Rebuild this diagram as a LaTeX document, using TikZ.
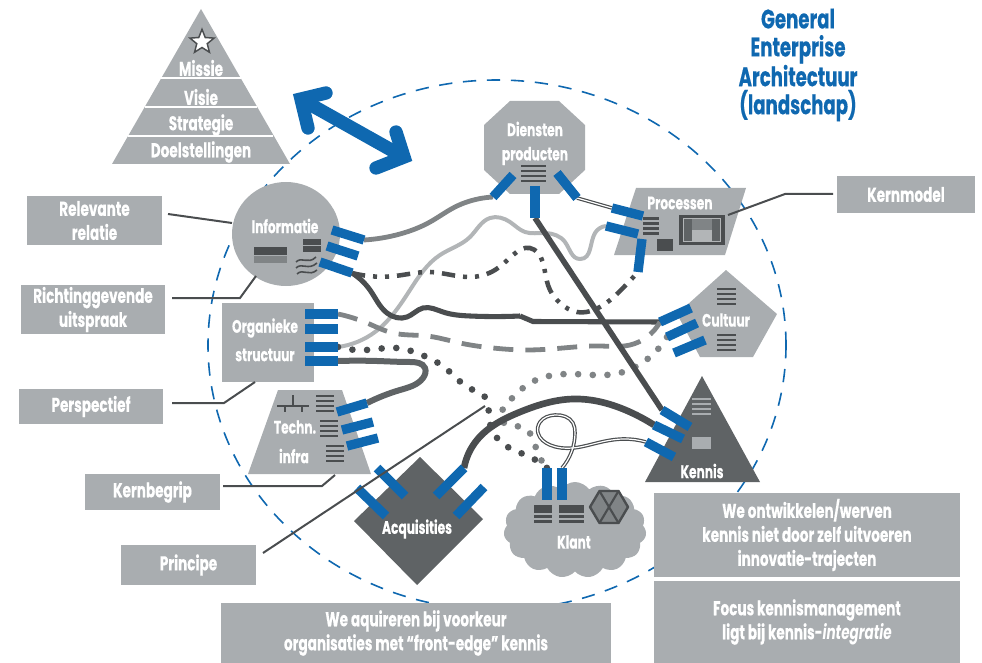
\documentclass[tikz,border=0pt]{standalone}
\usepackage{fontspec}
\setmainfont[FakeStretch=0.68,BoldFeatures={FakeBold=0.4}]{Poppins}
\usetikzlibrary{hobby,shapes.geometric,shapes.symbols}
\definecolor{kmgray}{HTML}{A9ADB0}
\definecolor{kmmid}{HTML}{808486}
\definecolor{kmlight}{HTML}{B2B5B7}
\definecolor{kmslate}{HTML}{5F6365}
\definecolor{kmdark}{HTML}{4A4D4F}
\definecolor{kmblue}{HTML}{0F68B0}
\newcommand{\stackicon}[5][kmdark]{
  \foreach \i in {0,2,4,6}
    \fill[#1] (#2,{#3+\i*(#5-#3)/7}) rectangle (#4,{#3+(\i+1)*(#5-#3)/7});
}
\newcommand{\kmport}[5]{
  \coordinate (#1-a) at (#2,#3);
  \coordinate (#1-b) at (#4,#5);
}
\tikzset{
  kmtext/.style={text=white,font=\fontsize{15}{18}\selectfont\bfseries,inner sep=0pt,align=center},
  kmsmall/.style={kmtext,font=\fontsize{13.5}{18}\selectfont\bfseries},
  kmbox/.style={kmtext,fill=kmgray,minimum width=#1*.75pt},
  port/.style={draw=kmblue,line width=7pt},
  leader/.style={draw=kmdark,line width=1.5pt},
  thinpair/.style={draw=kmdark,double=white,double distance=.9pt,line width=.9pt},
  dotted dark/.style={draw=kmdark,line width=5pt,line cap=round,dash pattern=on 0pt off 11pt},
  dotted mid/.style={draw=kmmid,line width=5pt,line cap=round,dash pattern=on 0pt off 11pt}
}
\begin{document}
\begin{tikzpicture}[use Hobby shortcut,x=.75pt,y=-.75pt]
\useasboundingbox (0,0) rectangle (982,663);

\draw[kmblue,line width=1.2pt,dash pattern=on 10pt off 8pt] (497,345) ellipse [x radius=289,y radius=265];

\fill[kmgray] (201,9) -- (290,164) -- (112,164) -- cycle;
\draw[white,line width=1pt] (161,78) -- (241,78) (145,107) -- (257,107) (128,136) -- (273,136);
\node[star,star points=5,star point ratio=2.3,draw=kmdark,fill=white,line width=1.1pt,inner sep=0pt,minimum size=19pt] (missiestar) at (202,42) {};
\node[kmtext] (missie) at (201,68) {Missie};
\node[kmtext] (visie) at (201,97) {Visie};
\node[kmtext] (strategie) at (201,125) {Strategie};
\node[kmtext] (doelstellingen) at (201,152) {Doelstellingen};

\draw[kmblue,line width=10pt,line cap=butt] (304,101) -- (402,156);
\draw[kmblue,line width=10pt,line cap=round,line join=miter] (326,93) -- (301,99) -- (308,128);
\draw[kmblue,line width=10pt,line cap=round,line join=miter] (376,168) -- (404,157) -- (396,132);

\node[text=kmblue,font=\fontsize{20}{21}\selectfont\bfseries,align=center,inner sep=0pt] (titel) at (798,65) {General\\Enterprise\\Architectuur\\(landschap)};

\fill[kmgray] (286,234) ellipse [x radius=54,y radius=52];
\node[kmsmall] (informatie) at (285,226) {Informatie};
\fill[kmdark] (254,247) rectangle (287,255);
\fill[kmmid] (254,256) rectangle (287,263);
\fill[kmdark] (303,239) rectangle (321,245);
\fill[kmdark] (303,246.5) rectangle (321,252);
\draw[kmdark,line width=1.2pt] (296,262) .. controls (302,256) and (308,265) .. (316,257);
\draw[kmdark,line width=1.2pt] (296,268) .. controls (302,262) and (308,271) .. (317,263);
\draw[kmdark,line width=1.2pt] (297,274) .. controls (303,268) and (309,277) .. (317,270);

\fill[kmgray] (510,101) -- (559,101) -- (585,125) -- (585,170) -- (559,194) -- (510,194) -- (484,170) -- (484,125) -- cycle;
\node[kmsmall] (diensten) at (535,129) {Diensten};
\node[kmsmall] (producten) at (535,156) {producten};
\stackicon{521}{165}{546}{182}

\fill[kmgray] (636,188) -- (746,188) -- (725,255) -- (614,255) -- cycle;
\node[kmsmall] (processen) at (680,203) {Processen};
\stackicon{643}{217}{659}{235}
\fill[kmdark] (657,239) rectangle (673,251);
\fill[kmdark] (679,215) rectangle (725,245);
\fill[kmlight] (683,218) rectangle (721,242);
\fill[kmslate] (684,219) rectangle (692,241);
\fill[kmslate] (712,219) rectangle (720,241);
\fill[kmmid] (692,219) rectangle (712,230);

\fill[kmgray] (726,270) -- (777,314) -- (753,357) -- (700,357) -- (677,314) -- cycle;
\node[kmsmall] (cultuur) at (726,320) {Cultuur};
\stackicon{717}{288}{736}{305}
\stackicon{717}{334}{736}{351}

\fill[kmgray] (222,303) rectangle (314,382);
\node[kmsmall] (organieke) at (265,328) {Organieke};
\node[kmsmall] (structuur) at (265,355) {structuur};

\fill[kmgray] (278,390) -- (342,390) -- (371,474) -- (248,474) -- cycle;
\node[kmsmall] (techn) at (295,427) {Techn.};
\node[kmsmall] (infra) at (294,456) {infra};
\draw[kmdark,line width=2pt] (277,406) -- (309,406) (293,395) -- (293,406) (285,406) -- (285,412) (302,406) -- (302,412);
\stackicon{316}{395}{334}{412}
\stackicon{320}{420}{338}{437}
\stackicon{326}{445}{344}{462}

\fill[kmslate] (420,457) -- (483,519) -- (417,585) -- (354,521) -- cycle;
\node[kmsmall] (acquisities) at (417,529) {Acquisities};

\fill[kmslate] (702,376) -- (760,482) -- (645,482) -- cycle;
\node[kmsmall] (kennis) at (702,471) {Kennis};
\stackicon[kmgray]{692}{398}{711}{415}
\fill[kmgray] (692,437) rectangle (711,449);

\node[cloud,cloud puffs=15,cloud puff arc=110,aspect=1.45,fill=kmgray,inner sep=0pt,minimum width=107pt,minimum height=72pt] (klantwolk) at (575,530) {};
\node[kmsmall] (klant) at (574,542) {Klant};
\fill[kmdark] (534,505) rectangle (552,513);
\fill[kmdark] (534,515) rectangle (552,518);
\fill[kmdark] (534,520) rectangle (552,523);
\fill[kmdark] (559,505) rectangle (584,513);
\fill[kmdark] (559,515) rectangle (584,518);
\fill[kmdark] (559,520) rectangle (584,523);
\draw[kmdark,fill=kmmid,line width=1.8pt,line join=round] (628,507) -- (618.5,491) -- (599.5,491) -- (590,507) -- (599.5,523) -- (618.5,523) -- cycle;
\draw[kmdark,line width=1.6pt] (618.5,491) -- (599.5,523) (599.5,491) -- (618.5,523);

\kmport{info1}{332}{230}{364}{240}
\kmport{info2}{327}{246}{358}{256}
\kmport{info3}{320}{262}{352}{273}
\kmport{dienst1}{513}{175}{493}{197}
\kmport{dienst2}{535}{186}{535}{218}
\kmport{dienst3}{557}{173}{577}{198}
\kmport{proces1}{612}{208}{643}{216}
\kmport{proces2}{606}{226}{638}{234}
\kmport{proces3}{642}{239}{638}{272}
\kmport{cult1}{660}{322}{691}{308}
\kmport{cult2}{667}{337}{697}{323}
\kmport{cult3}{674}{353}{705}{340}
\kmport{org1}{338}{314}{305}{314}
\kmport{org2}{338}{329}{305}{329}
\kmport{org3}{338}{347}{305}{347}
\kmport{org4}{338}{361}{305}{361}
\kmport{techn1}{337}{412}{367}{403}
\kmport{techn2}{342}{430}{373}{422}
\kmport{techn3}{347}{446}{378}{438}
\kmport{acq1}{377}{468}{405}{496}
\kmport{acq2}{357}{488}{386}{516}
\kmport{acq3}{436}{496}{464}{468}
\kmport{acq4}{456}{516}{484}{487}
\kmport{kennis1}{662}{410}{690}{427}
\kmport{kennis2}{654}{425}{683}{439}
\kmport{kennis3}{646}{442}{674}{457}
\kmport{klant1}{547}{468}{547}{500}
\kmport{klant2}{562}{468}{562}{500}

\draw[kmmid,line width=3.6pt] (info1-b) .. (400,234) .. (430,222) .. (455,207) .. (470,201) .. (dienst1-b);
\draw[thinpair] (dienst3-b) -- (proces1-a);
\draw[kmlight,line width=3pt] (org3-a) .. (375,332) .. (410,290) .. (440,255) .. (470,237) .. (490,218) .. (510,222) .. (525,232) .. (545,233) .. (565,242) .. (580,259) .. (595,233) .. (proces2-a);
\draw[kmdark,line width=3.8pt] (info3-b) .. (370,290) .. (387,313) .. (407,317) .. (423,308) .. (443,312) .. (470,316) .. (520,316);
\draw[kmdark,line width=3.8pt] (520,316) -- (533,321.5) -- (cult1-a);
\draw[kmdark,line width=3.4pt,dash pattern=on 10pt off 6pt on 3pt off 6pt on 3pt off 6pt] (info3-b) .. (395,276) .. (430,272) .. (470,277) .. (495,270) .. (513,255) .. (530,248) .. (538,253) .. (545,272) .. (550,290) .. (560,303) .. (577,312) .. (600,307) .. (623,288) .. (proces3-b);
\draw[kmmid,line width=3.6pt,dash pattern=on 15pt off 9pt] (org1-a) .. (367,323) .. (393,333) .. (427,336) .. (460,343) .. (493,348) .. (527,350) .. (563,348) .. (600,346) .. (630,345) .. (647,337) .. (cult1-a);
\draw[dotted dark] (org3-a) .. (366,350) .. (397,348) .. (422,355) .. (444,367) .. (471,389) .. (485,397) .. (489,418) .. (502,443) .. (530,457) .. (klant1-a);
\draw[dotted mid] (cult2-a) .. (642,363) .. (615,374) .. (573,374) .. (532,382) .. (506,405) .. (501,419) .. (524,428) .. (537,451) .. (klant1-a);
\draw[kmdark,line width=5pt] (acq3-b) .. (477,440) .. (520,412) .. (573,399) .. (630,412) .. (kennis2-a);
\draw[kmslate,line width=4.5pt] (org4-a) .. (377,361) .. (410,362) .. (425,368) .. (423,378) .. (400,390) .. (techn1-b);
\draw[kmdark,line width=4.2pt] (dienst2-b) -- (kennis1-a);
\draw[thinpair] (kennis3-a) .. (623,439) .. (597,443) .. (573,448) .. (550,445) .. (538,433) .. (540,422) .. (555,415) .. (573,423) .. (575,433) .. (klant2-a);

\foreach \p in {info1,info2,info3,dienst1,dienst2,dienst3,proces1,proces2,proces3,cult1,cult2,cult3,org1,org2,org3,org4,techn1,techn2,techn3,acq1,acq2,acq3,acq4,kennis1,kennis2,kennis3,klant1,klant2}
  \draw[port] (\p-a) -- (\p-b);

\node[kmbox=135,minimum height=36.75pt] (relevante) at (94.5,220.5) {Relevante\\relatie};
\node[kmbox=144,minimum height=36.75pt] (richting) at (93,309.5) {Richtinggevende\\uitspraak};
\node[kmbox=144,minimum height=26.25pt] (perspectief) at (91,406.5) {Perspectief};
\node[kmbox=135,minimum height=27pt] (kernbegrip) at (152.5,492) {Kernbegrip};
\node[kmbox=135,minimum height=30pt] (principe) at (188.5,565) {Principe};
\node[kmbox=138,minimum height=27.75pt] (kernmodel) at (906,194.5) {Kernmodel};
\node[kmbox=390,minimum height=45pt] (aquireren) at (416,633) {We aquireren bij voorkeur\\organisaties met “front-edge” kennis};
\node[kmbox=306,minimum height=63pt] (ontwikkelen) at (807,535) {We ontwikkelen/werven\\kennis niet door zelf uitvoeren\\innovatie-trajecten};
\node[kmbox=306,minimum height=61.5pt] (focus) at (807,622) {Focus kennismanagement\\ligt bij kennis-\textit{integratie}};

\coordinate (relevante-e) at (168,214);
\coordinate (relevante-t) at (232,223);
\coordinate (richting-e) at (172,298);
\coordinate (richting-t) at (256,276);
\coordinate (perspectief-e) at (172,403);
\coordinate (perspectief-t) at (255,382);
\coordinate (kernbegrip-e) at (223,486);
\coordinate (kernbegrip-t) at (335,475);
\coordinate (principe-e) at (263,553);
\coordinate (principe-t) at (485,406);
\coordinate (kernmodel-w) at (833,194);
\coordinate (kernmodel-t) at (728,215);
\draw[leader] (relevante-e) -- (relevante-t);
\draw[leader] (richting-e) -- (240,298) -- (richting-t);
\draw[leader] (perspectief-e) -- (224,403) -- (perspectief-t);
\draw[leader] (kernbegrip-e) -- (322,486) -- (kernbegrip-t);
\draw[leader] (principe-e) -- (principe-t);
\draw[leader] (kernmodel-w) -- (785,194) -- (kernmodel-t);
\end{tikzpicture}
\end{document}
